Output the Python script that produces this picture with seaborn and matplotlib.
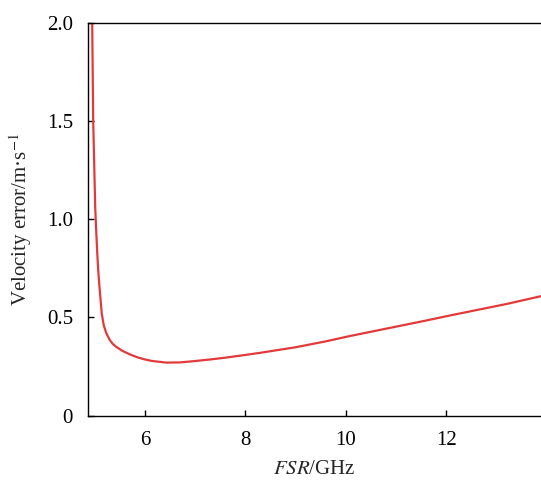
import matplotlib
matplotlib.use("Agg")
import matplotlib.pyplot as plt
import seaborn as sns
import pandas as pd

fsr_ghz = [4.95, 4.96, 4.97, 4.99, 5.01, 5.03, 5.05, 5.07, 5.09, 5.12, 5.14, 5.18, 5.23,
           5.30, 5.36, 5.43, 5.55, 5.70, 5.85, 6.00, 6.15, 6.43, 6.70, 6.96, 7.30, 7.63, 8.00, 8.30,
           9.00, 9.60, 10.08, 10.60, 11.10, 11.60, 12.08, 12.60, 13.20, 13.89]
vel_err = [2.00, 1.75, 1.50, 1.28, 1.06, 0.94, 0.83, 0.74, 0.67, 0.58, 0.52, 0.46, 0.42,
           0.385, 0.365, 0.35, 0.33, 0.312, 0.297, 0.286, 0.278, 0.270, 0.271, 0.277, 0.286, 0.296, 0.309, 0.32,
           0.348, 0.378, 0.405, 0.432, 0.458, 0.484, 0.51, 0.537, 0.568, 0.608]

xticks = [6, 8, 10, 12]
yticks = [0, 0.5, 1.0, 1.5, 2.0]
ytick_labels = ["0", "0.5", "1.0", "1.5", "2.0"]

sns.set_style("ticks")
plt.rcParams['font.family'] = ['Liberation Serif', 'DejaVu Serif']
plt.rcParams['mathtext.fontset'] = 'stix'

df = pd.DataFrame({"FSR": fsr_ghz, "err": vel_err})

fig = plt.figure(figsize=(5.41, 4.80), dpi=100)
ax = fig.add_axes([0.163, 0.134, 0.837, 0.819])
sns.lineplot(data=df, x="FSR", y="err", ax=ax, color="#e23a3a", linewidth=1.6,
             estimator=None, sort=False)

ax.set_xlim(4.87, 13.89)
ax.set_ylim(0, 2.0)
ax.set_xticks(xticks)
ax.set_xticklabels([str(t) for t in xticks])
ax.set_yticks(yticks)
ax.set_yticklabels(ytick_labels)
ax.tick_params(direction="in", length=4, width=1, labelsize=15, colors="black", pad=11)
for s in ["left", "bottom", "top"]:
    ax.spines[s].set_visible(True)
    ax.spines[s].set_linewidth(1.0)
    ax.spines[s].set_color("black")
ax.spines["right"].set_visible(False)

ax.set_xlabel(r"$\mathit{FSR}$/GHz", fontsize=15, labelpad=7)
ax.set_ylabel("Velocity error/m·s$^{-1}$", fontsize=15, labelpad=9)

fig.savefig("out.png", dpi=100)
